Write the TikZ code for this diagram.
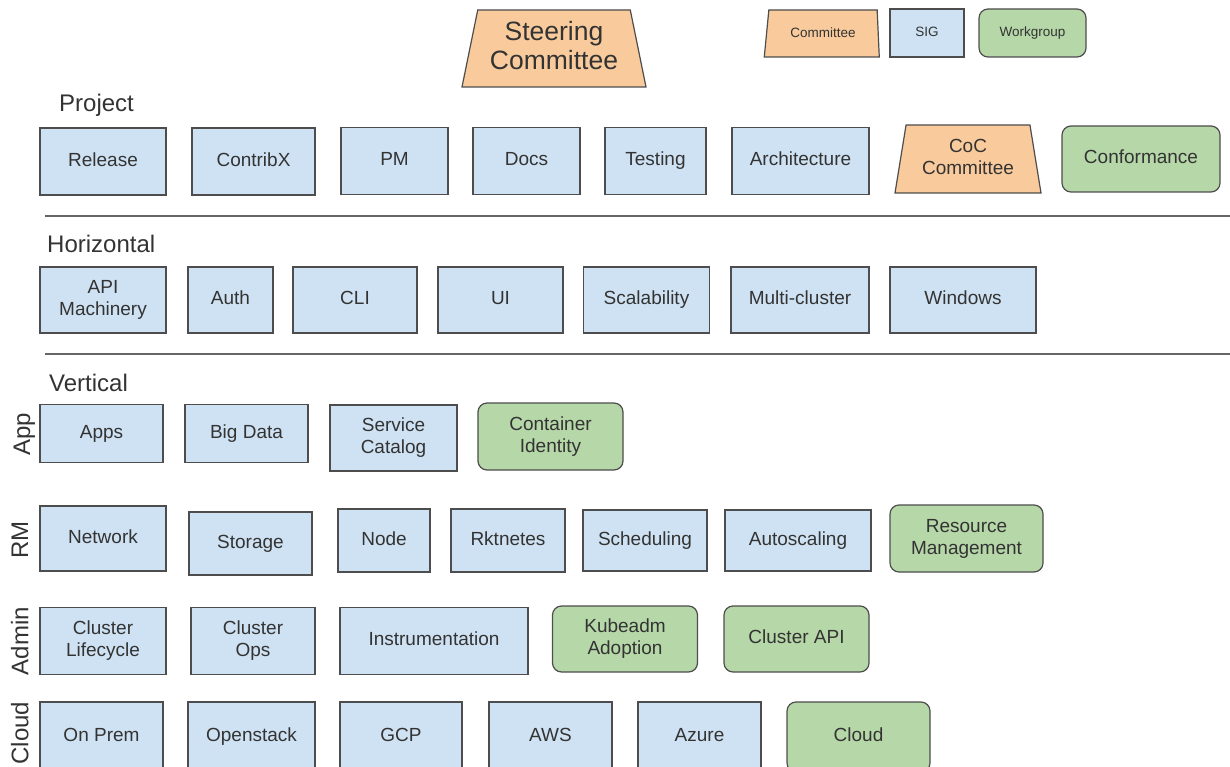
\documentclass[tikz,border=0pt]{standalone}
\usepackage{fontspec}
\setmainfont{Liberation Sans}
\usetikzlibrary{shapes.geometric}
\definecolor{sigfill}{HTML}{CFE2F3}
\definecolor{cmtefill}{HTML}{F9CB9C}
\definecolor{wgfill}{HTML}{B6D7A8}
\definecolor{edgegray}{HTML}{4D4D4D}
\definecolor{inkgray}{HTML}{333333}
\definecolor{rulegray}{HTML}{666666}
\newcommand\capstrut{\rule[-0.2em]{0pt}{0.92em}}
\begin{document}
\begin{tikzpicture}[
    x=1pt,y=-1pt,
    every node/.style={font=\fontsize{19}{22}\selectfont,text=inkgray,
        align=center,inner sep=2pt,
        execute at begin node=\capstrut,execute at end node=\capstrut},
    sig/.style={draw=edgegray,fill=sigfill,line width=1.2pt},
    wg/.style={draw=edgegray,fill=wgfill,line width=1.2pt,rounded corners=9pt},
    cmte/.style={draw=edgegray,fill=cmtefill,line width=1.2pt,
        trapezium,trapezium stretches body},
    head/.style={font=\fontsize{24}{28}\selectfont,anchor=base west},
    band/.style={font=\fontsize{24}{28}\selectfont,rotate=90},
    sep/.style={rulegray,line width=1.8pt}]
    \useasboundingbox (0,0) rectangle (1230,767);
    \clip (0,0) rectangle (1230,767);
    % steering committee and legend
    \node[cmte,trapezium angle=74.7,minimum width=184,minimum height=77,
        font=\fontsize{26.5}{29}\selectfont] (steering) at (554,48.5)
        {Steering\\Committee};
    \node[cmte,trapezium left angle=74.5,trapezium right angle=82.7,
        minimum width=115,minimum height=47,font=\fontsize{13.5}{16}\selectfont]
        (legcmte) at (823,33.5) {Committee};
    \node[sig,minimum width=74,minimum height=48,
        font=\fontsize{13.5}{16}\selectfont] (legsig) at (927,33) {SIG};
    \node[wg,minimum width=107,minimum height=48,
        font=\fontsize{13.5}{16}\selectfont] (legwg) at (1032.5,33) {Workgroup};
    % project
    \node[head] (project) at (57,112) {Project};
    \foreach \n/\cx/\cy/\w/\h/\txt in {
        release/103/161.5/126/67/Release, contribx/253.5/161.5/123/67/ContribX,
        pm/394.5/161/107/67/PM, docs/526.5/161/107/67/Docs,
        testing/655.5/161/101/67/Testing, arch/800.5/161/137/67/Architecture}
        \node[sig,minimum width=\w,minimum height=\h] (\n) at (\cx,\cy) {\txt};
    \node[cmte,trapezium angle=75.6,minimum width=146,minimum height=68]
        (coc) at (968,159) {CoC\\Committee};
    \node[wg,minimum width=158,minimum height=66] (conformance) at (1141,159)
        {Conformance};
    \draw[sep] (45,216) -- (1230,216);
    % horizontal
    \node[head] (horizontal) at (45,252) {Horizontal};
    \foreach \n/\cx/\w/\txt in {
        apimach/103/126/API\\Machinery, auth/230.5/85/Auth, cli/355/124/CLI,
        ui/500.5/125/UI, scal/646.5/126/Scalability,
        multi/800/138/Multi-cluster, windows/963/146/Windows}
        \node[sig,minimum width=\w,minimum height=66] (\n) at (\cx,300) {\txt};
    \draw[sep] (45,354) -- (1230,354);
    % vertical
    \node[head] (vertical) at (47,391) {Vertical};
    \node[band] (app) at (24,434) {App};
    \foreach \n/\cx/\cy/\w/\h/\txt in {
        apps/101.5/433.5/123/58/Apps, bigdata/246.5/433.5/123/58/Big Data,
        svccat/393.5/438/127/66/Service\\Catalog}
        \node[sig,minimum width=\w,minimum height=\h] (\n) at (\cx,\cy) {\txt};
    \node[wg,minimum width=145,minimum height=67] (contid) at (550.5,436.5)
        {Container\\Identity};
    \node[band] (rm) at (22,540) {RM};
    \foreach \n/\cx/\cy/\w/\h/\txt in {
        network/103/538.5/126/65/Network, storage/250.5/543.5/123/63/Storage,
        node/384/540.5/92/63/Node, rkt/508/540.5/114/63/Rktnetes,
        sched/645/540.5/124/61/Scheduling, autosc/798/540.5/146/61/Autoscaling}
        \node[sig,minimum width=\w,minimum height=\h] (\n) at (\cx,\cy) {\txt};
    \node[wg,minimum width=153,minimum height=67] (resmgmt) at (966.5,538.5)
        {Resource\\Management};
    \node[band] (admin) at (22,641) {Admin};
    \foreach \n/\cx/\w/\txt in {
        clifecycle/103/126/Cluster\\Lifecycle, cops/253/124/Cluster\\Ops,
        instr/434/188/Instrumentation}
        \node[sig,minimum width=\w,minimum height=67] (\n) at (\cx,641) {\txt};
    \foreach \n/\cx/\txt in {
        kubeadm/625/Kubeadm\\Adoption, capi/796.5/Cluster API}
        \node[wg,minimum width=145,minimum height=66] (\n) at (\cx,639) {\txt};
    \node[band] (cloud) at (22,733) {Cloud};
    \foreach \n/\cx/\w/\txt in {
        onprem/101.5/123/On Prem, openstack/251.5/127/Openstack,
        gcp/401/122/GCP, aws/550.5/123/AWS, azure/699.5/123/Azure}
        \node[sig,minimum width=\w,minimum height=70] (\n) at (\cx,737) {\txt};
    \node[wg,minimum width=143,minimum height=70] (cloudwg) at (858.5,737)
        {Cloud};
\end{tikzpicture}
\end{document}
